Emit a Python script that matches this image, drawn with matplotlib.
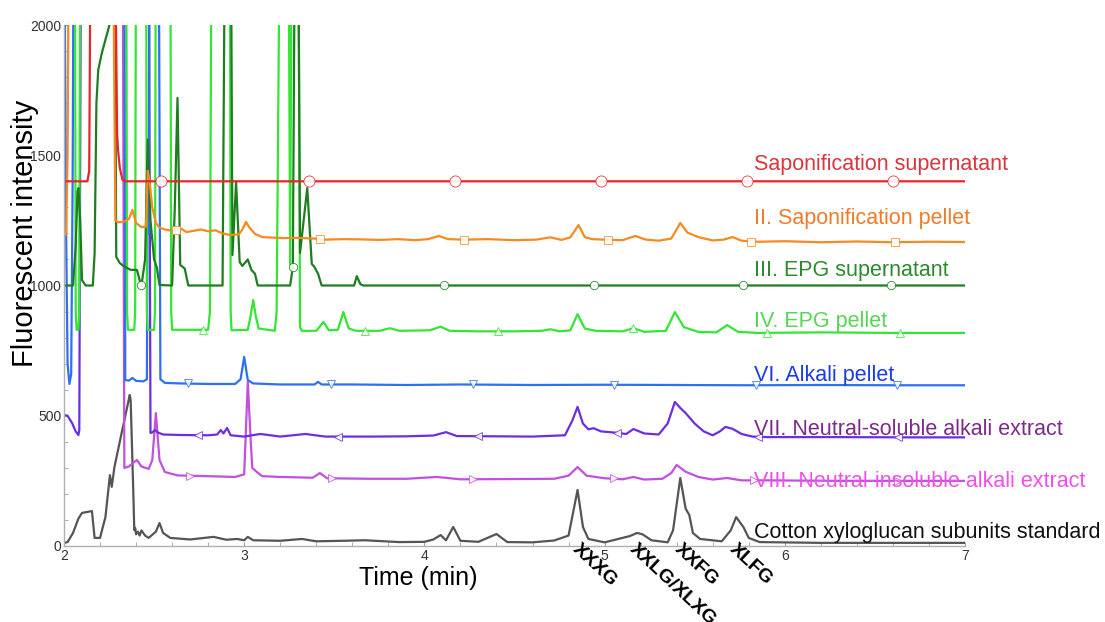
import numpy as np
import matplotlib
matplotlib.use("Agg")
import matplotlib.pyplot as plt
from matplotlib.ticker import MultipleLocator

plt.rcParams['font.family'] = ['Liberation Sans', 'DejaVu Sans']

# ---- data (time in min, fluorescence) ----
# values of 2600 mean "off the top of the chart"
red_t = [2.00, 2.13, 2.14, 2.15, 2.28, 2.295, 2.30, 2.31, 2.325, 2.34, 7.00]
red_v = [1400, 1400, 1440, 2600, 2600, 1580, 1520, 1450, 1405, 1400, 1400]
red_mt = [2.54, 3.36, 4.17, 4.98, 5.79, 6.60]
red_mv = [1400, 1400, 1400, 1400, 1400, 1400]

orange_t = [2.00, 2.012, 2.02, 2.028, 2.27, 2.285, 2.30, 2.33, 2.36, 2.38, 2.40, 2.43,
            2.455, 2.465, 2.475, 2.49, 2.51, 2.53, 2.56, 2.60, 2.65, 2.68, 2.72, 2.76,
            2.80, 2.84, 2.88, 2.92, 2.97, 2.99, 3.01, 3.03, 3.06, 3.10, 3.15, 3.22,
            3.30, 3.39, 3.45, 3.55, 3.65, 3.75, 3.85, 3.95, 4.02, 4.08, 4.13, 4.22,
            4.35, 4.50, 4.62, 4.70, 4.76, 4.81, 4.855, 4.89, 4.93, 5.00, 5.10, 5.17,
            5.23, 5.30, 5.37, 5.42, 5.46, 5.52, 5.60, 5.66, 5.71, 5.76, 5.85, 6.00,
            6.20, 6.40, 6.60, 6.80, 7.00]
orange_v = [1200, 1195, 1500, 2600, 2600, 1250, 1243, 1244, 1255, 1290, 1240, 1224,
            1226, 1440, 1400, 1300, 1240, 1222, 1215, 1210, 1218, 1205, 1210, 1215,
            1208, 1212, 1200, 1194, 1196, 1215, 1244, 1222, 1198, 1186, 1184, 1182,
            1183, 1180, 1176, 1178, 1177, 1175, 1178, 1174, 1178, 1190, 1178, 1176,
            1178, 1174, 1176, 1185, 1175, 1185, 1232, 1186, 1178, 1176, 1174, 1190,
            1176, 1172, 1180, 1240, 1203, 1186, 1173, 1176, 1186, 1172, 1168, 1170,
            1166, 1169, 1166, 1168, 1167]
orange_mt = [2.62, 3.42, 4.22, 5.02, 5.81, 6.61]
orange_mv = [1212, 1180, 1176, 1176, 1168, 1166]

dkgreen_t = [2.00, 2.05, 2.065, 2.075, 2.08, 2.09, 2.10, 2.12, 2.16, 2.17, 2.18, 2.19,
             2.21, 2.24, 2.26, 2.27, 2.28, 2.29, 2.31, 2.33, 2.37, 2.405, 2.42, 2.43,
             2.45, 2.465, 2.48, 2.50, 2.515, 2.53, 2.60, 2.615, 2.63, 2.645, 2.67, 2.69,
             2.88, 2.895, 2.925, 2.935, 2.955, 2.975, 2.99, 3.02, 3.04, 3.06, 3.075,
             3.255, 3.27, 3.283, 3.298, 3.31, 3.35, 3.375, 3.39, 3.41, 3.43, 3.61,
             3.625, 3.645, 3.66, 7.00]
dkgreen_v = [1000, 1000, 1150, 1360, 1374, 1250, 1021, 1000, 1000, 1125, 1700, 1827,
             1892, 1969, 2020, 2600, 2600, 1110, 1086, 1075, 1060, 1060, 1020, 1000,
             1100, 1560, 1250, 1100, 1070, 1002, 1000, 1300, 1720, 1079, 1065, 1000,
             1000, 2600, 2600, 1117, 1397, 1090, 1075, 1100, 1060, 1045, 1000,
             1000, 1071, 2600, 2600, 1125, 1374, 1083, 1071, 1045, 1000, 1000,
             1036, 1005, 1000, 1000]
dkgreen_mt = [2.43, 3.27, 4.11, 4.94, 5.77, 6.59]
dkgreen_mv = [1000, 1071, 1000, 1000, 1000, 1000]

ltgreen_t = [2.00, 2.06, 2.065, 2.07, 2.08, 2.085, 2.09, 2.345, 2.35, 2.355, 2.39, 2.395,
             2.40, 2.455, 2.46, 2.465, 2.50, 2.505, 2.51, 2.59, 2.595, 2.60, 2.80, 2.81,
             2.82, 2.92, 2.925, 2.93, 3.02, 3.035, 3.05, 3.065, 3.08, 3.17, 3.18, 3.20,
             3.245, 3.255, 3.265, 3.30, 3.31, 3.32, 3.40, 3.44, 3.47, 3.52, 3.55, 3.58,
             3.62, 3.75, 3.81, 3.86, 4.03, 4.09, 4.14, 4.30, 4.50, 4.65, 4.70, 4.75,
             4.81, 4.85, 4.89, 4.95, 5.10, 5.16, 5.22, 5.34, 5.39, 5.44, 5.52, 5.62,
             5.68, 5.74, 5.85, 6.20, 6.60, 7.00]
ltgreen_v = [2600, 2600, 900, 830, 830, 900, 2600, 2600, 900, 830, 830, 900,
             2600, 2600, 900, 830, 830, 900, 2600, 2600, 900, 830, 830, 900,
             2600, 2600, 900, 828, 830, 880, 944, 880, 835, 826, 900, 2600,
             2600, 1080, 2600, 2600, 840, 826, 826, 860, 828, 830, 898, 835,
             826, 826, 836, 826, 828, 842, 826, 824, 824, 826, 832, 824,
             828, 890, 835, 826, 824, 836, 822, 826, 898, 840, 822, 820,
             848, 822, 818, 820, 818, 818]
ltgreen_mt = [2.77, 3.67, 4.41, 5.16, 5.90, 6.64]
ltgreen_mv = [830, 826, 824, 836, 818, 818]

blue_t = [2.00, 2.012, 2.02, 2.03, 2.04, 2.048, 2.055, 2.335, 2.34, 2.36, 2.38, 2.40,
          2.44, 2.46, 2.465, 2.47, 2.475, 2.525, 2.535, 2.56, 2.65, 2.80, 2.95, 2.98,
          3.00, 3.02, 3.05, 3.20, 3.39, 3.41, 3.43, 3.60, 3.90, 4.20, 4.60, 5.00,
          5.40, 5.80, 6.20, 6.60, 7.00]
blue_v = [2600, 1200, 700, 622, 660, 1400, 2600, 2600, 637, 635, 645, 634,
          632, 640, 1560, 1200, 2600, 2600, 640, 626, 624, 622, 622, 640,
          726, 637, 624, 620, 620, 630, 620, 620, 618, 620, 618, 619,
          618, 617, 618, 617, 617]
blue_mt = [2.69, 3.48, 4.27, 5.05, 5.84, 6.62]
blue_mv = [624, 620, 620, 619, 618, 617]

purple_t = [2.00, 2.02, 2.045, 2.065, 2.08, 2.085, 2.095, 2.47, 2.48, 2.49, 2.505, 2.52,
            2.55, 2.65, 2.80, 2.85, 2.87, 2.885, 2.905, 2.925, 3.00, 3.09, 3.20, 3.34,
            3.45, 3.70, 3.90, 4.05, 4.12, 4.18, 4.40, 4.60, 4.78, 4.82, 4.85, 4.88,
            4.91, 4.94, 4.98, 5.06, 5.12, 5.16, 5.22, 5.30, 5.35, 5.39, 5.42, 5.45,
            5.50, 5.55, 5.60, 5.64, 5.67, 5.71, 5.76, 5.82, 5.90, 6.30, 6.70, 7.00]
purple_v = [503, 500, 472, 440, 426, 445, 2600, 2600, 434, 436, 445, 436,
            428, 426, 425, 428, 445, 432, 453, 425, 420, 430, 420, 430,
            420, 420, 421, 424, 437, 422, 421, 420, 425, 480, 534, 470,
            448, 452, 440, 435, 430, 449, 432, 428, 470, 553, 530, 510,
            470, 440, 425, 440, 457, 450, 430, 420, 418, 418, 417, 417]
purple_mt = [2.745, 3.52, 4.30, 5.07, 5.85, 6.63]
purple_mv = [426, 420, 421, 435, 418, 417]

magenta_t = [2.00, 2.325, 2.335, 2.36, 2.385, 2.405, 2.43, 2.47, 2.49, 2.51, 2.53, 2.56,
             2.63, 2.80, 2.95, 3.00, 3.01, 3.02, 3.035, 3.045, 3.07, 3.10, 3.20, 3.38,
             3.42, 3.46, 3.70, 3.90, 4.07, 4.20, 4.50, 4.72, 4.80, 4.85, 4.90, 5.00,
             5.10, 5.16, 5.22, 5.32, 5.37, 5.40, 5.45, 5.52, 5.60, 5.68, 5.76, 5.90,
             6.30, 7.00]
magenta_v = [2600, 2600, 300, 305, 320, 330, 305, 296, 330, 510, 330, 284,
             271, 268, 265, 275, 450, 630, 420, 300, 284, 268, 265, 262,
             280, 260, 258, 258, 265, 256, 257, 258, 270, 303, 270, 260,
             256, 265, 255, 258, 280, 311, 285, 265, 255, 261, 252, 252,
             250, 250]
magenta_mt = [2.70, 3.49, 4.27, 5.05, 5.83, 6.63]
magenta_mv = [268, 262, 256, 260, 252, 250]

gray_t = [2.00, 2.02, 2.05, 2.08, 2.10, 2.155, 2.17, 2.20, 2.23, 2.255, 2.265, 2.28,
          2.32, 2.365, 2.37, 2.385, 2.39, 2.395, 2.40, 2.41, 2.42, 2.43, 2.45, 2.47,
          2.51, 2.53, 2.55, 2.59, 2.70, 2.83, 2.90, 2.96, 3.00, 3.02, 3.05, 3.20,
          3.32, 3.40, 3.55, 3.67, 3.86, 4.00, 4.05, 4.09, 4.12, 4.16, 4.20, 4.30,
          4.40, 4.46, 4.60, 4.72, 4.80, 4.85, 4.88, 4.91, 5.00, 5.14, 5.18, 5.21,
          5.26, 5.35, 5.38, 5.42, 5.45, 5.47, 5.49, 5.53, 5.65, 5.70, 5.73, 5.77,
          5.80, 5.86, 6.20, 6.60, 7.00]
gray_v = [12, 15, 50, 105, 127, 134, 31, 31, 111, 272, 227, 303,
          434, 580, 560, 200, 61, 70, 45, 55, 40, 60, 40, 31,
          55, 88, 50, 31, 25, 35, 24, 27, 22, 35, 22, 20,
          27, 18, 20, 22, 15, 16, 25, 42, 22, 73, 20, 16,
          46, 15, 14, 21, 40, 215, 73, 27, 14, 38, 50, 45,
          22, 14, 60, 261, 143, 119, 50, 27, 18, 60, 111, 73,
          31, 15, 12, 12, 12]

labels = ["Saponification supernatant", "II. Saponification pellet", "III. EPG supernatant",
          "IV. EPG pellet", "VI. Alkali pellet", "VII. Neutral-soluble alkali extract",
          "VIII. Neutral-insoluble alkali extract", "Cotton xyloglucan subunits standard"]
label_y = [1463, 1259, 1056, 860, 653, 449, 246, 50]
peak_names = ["XXXG", "XXLG/XLXG", "XXFG", "XLFG"]
peak_t = [4.833, 5.15, 5.40, 5.706]

fig = plt.figure(figsize=(11.05, 6.22), dpi=100)
ax = fig.add_axes([0.0579, 0.1222, 0.8154, 0.8376])

traces = [
    (gray_t, gray_v, None, None, '#555555', None),
    (magenta_t, magenta_v, magenta_mt, magenta_mv, '#c24fe0', '>'),
    (purple_t, purple_v, purple_mt, purple_mv, '#6a2fe0', '<'),
    (blue_t, blue_v, blue_mt, blue_mv, '#2f6ff2', 'v'),
    (ltgreen_t, ltgreen_v, ltgreen_mt, ltgreen_mv, '#33e633', '^'),
    (dkgreen_t, dkgreen_v, dkgreen_mt, dkgreen_mv, '#1f7d1f', 'o'),
    (orange_t, orange_v, orange_mt, orange_mv, '#f58a20', 's'),
    (red_t, red_v, red_mt, red_mv, '#e8262a', 'o'),
]
for t, v, mt, mv, c, m in traces:
    ax.plot(t, v, color=c, lw=1.6)
    if mt is not None:
        ms = 8 if c == '#e8262a' else 6
        ax.plot(mt, mv, ls='none', marker=m, ms=ms, mfc='white', mec=c,
                mew=0.6, alpha=0.9)

ax.set_xlim(2, 7)
ax.set_ylim(0, 2000)
for s in ['top', 'right']:
    ax.spines[s].set_visible(False)
for s in ['left', 'bottom']:
    ax.spines[s].set_color('#b0b0b0')
    ax.spines[s].set_linewidth(1.0)
ax.xaxis.set_major_locator(MultipleLocator(1))
ax.xaxis.set_minor_locator(MultipleLocator(0.2))
ax.yaxis.set_major_locator(MultipleLocator(500))
ax.yaxis.set_minor_locator(MultipleLocator(100))
ax.tick_params(which='both', direction='in', color='#a0a0a0', labelsize=10,
               labelcolor='#333333', length=3, pad=2)

label_colors = ['#d9363e', '#f07b2a', '#2d8a2d', '#55d655', '#1b3be8', '#7d2a8c',
                '#f050e8', '#111111']
for txt, y, c in zip(labels, label_y, label_colors):
    ax.text(5.83, y, txt, color=c, fontsize=15.5, ha='left', va='center')

for name, t in zip(peak_names, peak_t):
    ax.text(t, -4, name, fontsize=14, fontweight='bold', rotation=-43,
            rotation_mode='anchor', ha='left', va='center', clip_on=False)

fig.text(25 / 1105, 1 - 233 / 622, "Fluorescent intensity", rotation=90,
         fontsize=21, ha='center', va='center')
fig.text(418 / 1105, 1 - 578 / 622, "Time (min)", fontsize=18,
         ha='center', va='center')

fig.savefig("out.png", dpi=100)
